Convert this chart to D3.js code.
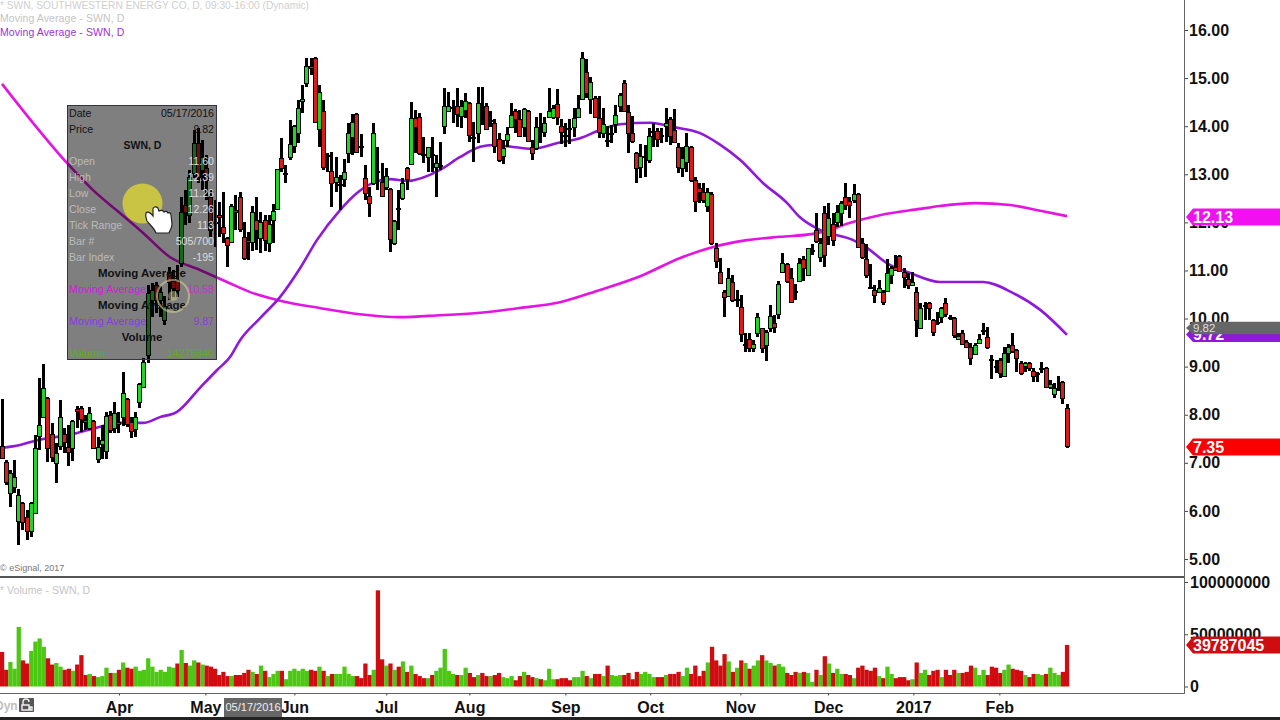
<!DOCTYPE html>
<html><head><meta charset="utf-8">
<script src="https://cdn.jsdelivr.net/npm/d3@7/dist/d3.min.js"></script>
<style>
html,body{margin:0;padding:0;background:#fff;overflow:hidden}
svg{display:block}
text{font-family:"Liberation Sans",Arial,sans-serif}
</style></head><body>
<svg id="c" width="1280" height="720"></svg>
<script>
const opens=[7.35,7.02,6.37,6.50,5.79,6.16,5.87,5.58,5.96,7.56,
7.95,8.35,7.60,6.99,7.35,7.60,7.33,7.31,8.12,8.14,
7.89,7.72,7.87,7.08,7.39,7.25,7.99,7.72,7.85,7.95,
8.33,7.85,7.70,8.26,8.58,9.24,10.39,10.70,10.39,9.97,
10.97,10.78,10.80,11.15,12.36,12.15,13.03,13.65,13.09,13.13,
12.53,12.01,12.16,11.90,11.67,11.59,12.26,12.53,11.70,11.63,
11.59,12.05,11.67,12.05,11.57,12.05,12.28,13.34,13.03,13.36,
13.59,13.86,14.52,14.90,15.25,15.42,13.94,14.32,13.40,13.07,
12.84,12.79,12.90,13.44,13.77,14.25,13.59,12.92,12.55,12.82,
13.07,12.84,12.73,12.69,11.57,12.30,12.51,13.13,13.21,14.17,
14.19,13.43,13.36,13.43,13.15,13.20,14.00,14.32,14.39,14.42,
14.21,14.34,14.48,13.78,13.86,14.33,14.42,14.13,14.07,13.73,
13.38,13.71,13.98,14.32,14.15,13.98,14.32,13.57,13.55,13.96,
13.88,14.19,14.19,14.46,14.00,13.81,13.96,13.98,14.19,14.56,
15.13,14.57,14.59,14.17,13.86,13.71,13.86,14.05,14.42,14.90,
14.29,13.86,13.44,13.15,13.37,13.30,13.90,13.90,13.82,14.00,
14.15,13.92,13.57,13.13,13.26,13.57,12.88,12.71,12.63,12.34,
12.59,11.47,10.97,10.55,10.47,10.76,10.40,10.24,9.47,9.57,
9.39,9.70,9.80,9.45,9.80,9.91,10.09,10.97,11.13,10.84,
10.57,10.78,11.24,10.91,11.43,11.84,11.28,12.19,11.72,11.97,
12.01,12.19,12.53,12.44,12.47,12.59,11.57,11.24,10.65,10.59,
10.55,10.55,10.57,10.91,11.07,11.30,10.97,10.82,10.70,10.55,
9.80,10.29,10.32,9.97,9.93,10.03,10.32,10.03,10.01,9.57,
9.70,9.51,9.41,9.26,9.49,9.77,9.62,9.15,9.01,9.14,
8.81,9.28,9.45,9.35,9.08,9.01,9.08,8.91,8.87,8.97,
8.97,8.58,8.43,8.53,8.68,8.14];
const highs=[8.33,7.06,6.85,7.06,6.46,6.19,6.02,6.19,7.58,8.76,
9.05,8.37,7.83,7.41,8.31,7.72,7.79,7.89,8.18,8.18,
7.99,8.16,7.89,7.54,7.79,8.06,8.08,8.26,8.06,8.89,
8.35,7.95,8.06,8.66,9.18,10.70,10.74,10.76,10.67,10.47,
11.07,11.01,11.11,12.53,12.67,13.09,13.92,13.96,13.71,13.40,
12.67,12.47,12.42,12.63,11.70,12.38,12.57,12.63,12.01,11.80,
12.34,12.53,12.22,12.15,12.15,12.38,13.11,13.75,13.19,14.13,
14.02,14.55,14.86,15.42,15.42,15.44,14.86,14.55,13.44,13.46,
13.36,12.98,13.32,14.07,14.25,14.27,13.84,13.19,12.73,14.07,
13.57,13.23,13.13,12.71,12.05,12.67,12.92,13.15,14.50,14.34,
14.27,13.77,13.57,13.77,13.40,13.67,14.79,14.71,14.55,14.79,
14.55,14.69,14.50,14.09,14.81,14.81,14.48,14.32,14.15,13.86,
13.71,13.98,14.48,14.36,14.34,14.38,14.34,13.71,14.19,14.27,
14.19,14.79,14.44,14.77,14.15,14.07,14.15,14.38,14.65,15.54,
15.40,15.02,14.63,14.63,14.38,14.00,14.02,14.44,14.69,14.96,
14.44,14.21,13.46,13.63,13.61,13.96,14.07,13.96,13.96,14.38,
14.19,14.36,13.65,13.57,13.86,13.59,12.94,12.82,12.82,12.71,
12.63,11.57,11.26,10.59,11.05,10.91,10.59,10.49,9.70,9.70,
9.55,10.11,9.80,9.76,10.28,10.07,10.78,11.36,11.15,11.05,
10.72,11.26,11.30,11.47,11.55,12.19,11.67,12.34,12.40,12.19,
12.36,12.44,12.82,12.53,12.80,12.61,11.67,11.55,11.13,10.70,
10.80,10.59,11.24,11.09,11.32,11.32,11.05,10.95,10.97,10.66,
10.32,10.34,10.34,9.99,10.14,10.24,10.43,10.07,10.03,9.70,
9.76,9.55,9.49,9.49,9.68,9.91,9.82,9.24,9.14,9.18,
9.41,9.47,9.70,9.37,9.12,9.10,9.10,8.97,8.89,9.10,
8.99,8.72,8.66,8.80,8.70,8.22];
const lows=[7.08,6.54,6.08,6.37,5.29,5.60,5.39,5.46,5.96,7.27,
7.93,7.02,7.02,6.58,7.27,7.20,6.93,7.04,7.72,7.64,
7.68,7.68,7.29,6.99,7.08,7.08,7.62,7.62,7.62,7.77,
7.75,7.51,7.54,8.14,8.58,9.07,10.03,10.11,10.03,9.87,
10.39,10.45,10.45,11.07,11.95,11.99,12.92,12.82,12.67,12.47,
11.70,11.49,11.70,11.57,11.07,11.57,11.84,11.80,11.22,11.22,
11.40,11.42,11.36,11.40,11.38,11.57,12.28,13.05,12.82,13.30,
13.44,13.65,14.27,14.81,15.06,14.07,13.57,13.09,13.05,12.32,
12.63,12.26,12.73,13.23,13.40,13.44,13.36,12.47,12.11,12.78,
12.67,12.53,12.67,11.38,11.53,11.84,12.47,12.67,13.19,13.44,
13.40,13.23,13.05,13.05,12.53,13.09,13.84,14.32,14.07,13.98,
13.96,14.17,13.67,13.26,13.65,14.02,13.92,13.98,13.44,13.26,
13.21,13.57,13.96,13.86,13.78,13.78,13.67,13.30,13.50,13.65,
13.78,14.17,14.15,14.02,13.63,13.57,13.63,13.78,14.17,14.57,
14.59,14.25,14.17,13.75,13.75,13.57,13.65,13.86,14.29,14.29,
13.44,13.65,12.82,12.92,12.94,13.23,13.57,13.57,13.65,13.67,
13.61,13.65,13.03,12.94,13.05,12.84,12.21,12.40,12.40,12.21,
11.53,11.05,10.74,10.03,10.45,10.34,10.24,9.51,9.30,9.30,
9.30,9.62,9.28,9.12,9.72,9.70,9.99,10.95,10.74,10.32,
10.39,10.76,10.78,10.88,11.32,11.57,11.18,11.07,11.53,11.51,
11.90,11.92,12.26,12.09,12.40,11.47,11.24,10.84,10.63,10.32,
10.53,10.28,10.55,10.72,11.01,10.97,10.63,10.61,10.68,9.62,
9.78,9.97,9.97,9.64,9.87,9.91,10.03,9.97,9.59,9.55,
9.45,9.39,9.03,9.24,9.47,9.66,9.37,8.74,8.87,8.76,
8.78,9.07,9.28,8.89,8.83,8.89,8.91,8.68,8.68,8.87,
8.58,8.53,8.35,8.49,8.22,7.31];
const closes=[7.10,6.60,6.79,6.70,6.33,5.77,5.58,6.16,7.31,7.79,
8.56,7.31,7.12,7.20,7.95,7.43,7.22,7.87,8.08,7.91,
7.85,8.04,7.31,7.33,7.47,7.97,7.68,8.04,7.81,8.45,
7.81,7.66,7.95,8.64,9.10,10.53,10.59,10.39,10.55,10.26,
10.76,10.63,10.59,12.22,12.22,12.94,13.65,12.94,13.36,12.88,
11.84,11.99,12.12,11.78,11.53,12.34,12.22,11.86,11.26,11.59,
12.22,11.84,12.01,11.63,11.97,12.24,13.11,13.13,13.00,13.63,
14.00,14.38,14.57,15.25,15.21,14.09,14.71,13.15,13.38,12.82,
12.94,12.77,13.05,13.86,14.09,13.46,13.57,12.61,12.40,13.86,
13.05,12.55,12.96,11.65,12.03,12.28,12.82,12.90,14.17,13.98,
13.44,13.41,13.57,13.41,13.23,13.18,14.42,14.42,14.37,14.25,
14.42,14.52,13.82,13.76,14.48,14.31,13.94,14.11,13.59,13.30,
13.55,13.84,14.23,14.15,13.80,14.36,13.69,13.44,13.98,13.94,
14.07,14.32,14.38,14.19,13.88,13.79,13.94,14.17,14.38,15.42,
14.69,14.92,14.19,13.88,14.05,13.69,13.84,14.23,14.65,14.32,
13.86,13.69,13.13,13.38,13.35,13.80,13.88,13.73,13.80,14.07,
13.80,13.67,13.15,13.34,13.59,12.88,12.44,12.63,12.47,12.63,
11.57,11.20,10.74,10.45,10.84,10.39,10.38,9.68,9.45,9.39,
9.47,10.03,9.39,9.72,10.05,9.82,10.72,11.15,10.78,10.34,
10.55,11.15,11.05,11.47,11.41,11.61,11.57,11.32,12.09,11.63,
12.22,12.40,12.36,12.36,12.59,11.49,11.28,10.91,10.63,10.49,
10.63,10.34,10.95,11.05,11.01,10.99,10.86,10.70,10.76,9.97,
10.22,10.27,10.22,9.72,9.91,10.22,10.09,10.01,9.66,9.64,
9.47,9.41,9.18,9.45,9.57,9.75,9.41,9.13,8.99,8.87,
9.28,9.41,9.32,9.18,8.87,9.08,8.97,8.81,8.85,8.95,
8.58,8.64,8.55,8.51,8.35,7.35];
const volumes=[33,16,23.5,17,57,25,22,34,43,46,
38,27,21,22.5,19,16,17,15,21,30,
11,12,10,9,10,18,13,13,16,23,
18,17,19,15,16,27,19,14,16,14,
19,18,22,35,22.5,20,25,23,21,20,
19,17,11,14,10,10,11,11,13,16,
14,12,20,15,9,12,15,15,7,15,
17,15,17,15,16,15,19,15,10,12,
12,12,19,12,10,10,8,22,11,16,
92,26,20,22,16,19,24,14,20,12,
10,8,8,11,15,18,36,15,12,11,
11,18,13,9,11,13,10,10,11,13,
9,8,10,6,10,14,11,9,8,7,
6,17,7,7,8,8,6,9,9,15,
10,8,12,12,10,20,11,10,11,11,
13,7,14,12,14,12,9,9,9,11,
12,12,14,10,18,12,20,10,15,23,
38,25,20,31,24,14,18,25,22.5,17,
20,25,30,25,22.5,20,21.5,19,13,11,
14,13,14,13,4.5,16,11,29,22,13,
17,12,12,11,8,18,20,16,15,18,
10,8,19,12,8,9,9,6,7,23,
13,16,11,15,16,9,16,11,16,13,
13,14,20,18,11,16,11,19,18,13,
16,21,17,16,15,11,9,12,12,11,
12,18,13,11,14,39.787045];
const volumeDirs=["rrgggrrggg","grrggrrgrr","rgrgggrgrg","rrgggggggg","ggrgrggrgr",
"rrrrrgrrrr","grgrgggrgg","ggggrrgrgr","gggggrrrrg","rrgrgrgrgr",
"rrgrgggggr","ggrrgrrgrr","gggrrgrrgr","gggrrrrggg","rgrrgrgggr",
"rrrggggrrg","rrrggrrrrg","rrrrgrgrgr","ggrggrggrr","rgrggrgrgr",
"ggrrgrrrrr","grggrrrrgr","ggrrrgrrrg","rrrgggrrrr","ggrrrgrrgg","rgggrr"].join("");
const tickIndex=[28,48.7,70,92,111.9,134.9,155.2,176.8,197.8,218.2,238.8];
const tickLabels=["Apr","May","Jun","Jul","Aug","Sep","Oct","Nov","Dec","2017","Feb"];
const maLongIdx=[0,7.4,15.6,21.8,28.3,33.8,40.2,47.4,53.9,59.4,66.6,76,85.7,95.3,105,114.5,124,133.6,143,152.8,162.4,170.3,178.4,186.3,194.2,198.3,202.3,210.2,219.8,224.6,233,241.4,248.6,255];
const maLongVal=[14.88,14.07,13.23,12.67,12.19,11.78,11.28,11.01,10.76,10.55,10.37,10.22,10.09,10.03,10.07,10.12,10.22,10.34,10.59,10.88,11.26,11.49,11.63,11.70,11.76,11.84,11.97,12.15,12.28,12.34,12.40,12.36,12.24,12.13];
const maShortIdx=[0,4.3,8.4,13.2,18,23.5,27.5,33.8,37.8,41.9,47.4,51.5,54.6,57,61.8,66.6,71.4,75.4,81,85,88.8,92.9,97,104.9,109.7,114.5,117.6,124,126.9,133,138.4,143.2,148,155.2,160.7,167,172,176.7,182.2,188,191,195.9,203.8,207.1,211.9,217.4,224.6,234.9,242.1,248.6,255];
const maShortVal=[7.31,7.37,7.47,7.54,7.62,7.75,7.83,7.83,7.95,8.06,8.56,8.93,9.20,9.55,10.01,10.45,11.05,11.63,12.26,12.61,12.82,12.90,12.86,13.09,13.36,13.57,13.61,13.55,13.53,13.65,13.75,13.92,14.04,14.07,13.98,13.86,13.61,13.30,12.82,12.40,12.11,11.84,11.63,11.47,11.15,10.95,10.76,10.76,10.53,10.18,9.66];
const priceTicks=[5,6,7,8,9,10,11,12,13,14,15,16];
const volumeTicks=[0,50,100];
const panelRows=[["Date","05/17/2016"],["Price","9.82"]];
const panelValues=[["Open","11.60"],["High","12.39"],["Low","11.26"],["Close","12.26"],["Tick Range","113"],["Bar #","505/700"],["Bar Index","-195"]];

const svg=d3.select("#c");
const GREEN="#22d428",RED="#d81c1c",MAG="#e414e4",PUR="#9018d8";
const x=d3.scaleLinear().domain([0,255]).range([2,1067]);
const y=d3.scaleLinear().domain([5,16]).range([559,30]);
const v=d3.scaleLinear().domain([0,100]).range([686.5,582]);

// moving averages (under the candles)
const lineOf=(idx,val)=>d3.line().x((d,i)=>x(idx[i])).y(d=>y(d)).curve(d3.curveMonotoneX)(val);
svg.append("path").attr("d",lineOf(maLongIdx,maLongVal)).attr("fill","none").attr("stroke",MAG).attr("stroke-width",2.6);
svg.append("path").attr("d",lineOf(maShortIdx,maShortVal)).attr("fill","none").attr("stroke",PUR).attr("stroke-width",2.6);

// candles
const cx=i=>Math.floor(x(i))+0.5;
const cg=svg.append("g").attr("shape-rendering","crispEdges");
cg.selectAll("line").data(opens).join("line")
 .attr("x1",(d,i)=>cx(i)).attr("x2",(d,i)=>cx(i))
 .attr("y1",(d,i)=>y(highs[i])).attr("y2",(d,i)=>y(lows[i]))
 .attr("stroke","#000").attr("stroke-width",3);
cg.selectAll("rect").data(opens).join("rect")
 .attr("x",(d,i)=>cx(i)-2).attr("width",4)
 .attr("y",(d,i)=>Math.round(Math.min(y(d),y(closes[i])))+0.5)
 .attr("height",(d,i)=>Math.max(1,Math.round(Math.abs(y(d)-y(closes[i])))))
 .attr("fill",(d,i)=>closes[i]>d?GREEN:RED)
 .attr("stroke","#000").attr("stroke-width",1);

// volume
const vw=x(1)-x(0);
svg.append("g").selectAll("rect").data(volumes).join("rect")
 .attr("x",(d,i)=>x(i)-vw/2).attr("width",vw+0.1)
 .attr("y",d=>v(d)).attr("height",d=>v(0)-v(d))
 .attr("fill",(d,i)=>volumeDirs[i]==="g"?"#4cc814":"#d00c10");

// frame
svg.append("rect").attr("x",0).attr("y",576).attr("width",1184).attr("height",2).attr("fill","#555");
svg.append("rect").attr("x",0).attr("y",693).attr("width",1185).attr("height",1).attr("fill","#666");
svg.append("rect").attr("x",1184).attr("y",0).attr("width",1).attr("height",694).attr("fill","#666");
svg.append("rect").attr("x",0).attr("y",717).attr("width",1280).attr("height",3).attr("fill","#222");

// axes
const axisStyle=g=>{g.select(".domain").remove();
 g.selectAll("line").attr("stroke","#444");
 g.selectAll("text").attr("font-family","Liberation Sans").attr("font-size",16).attr("font-weight","bold").attr("fill","#111");};
svg.append("g").attr("transform","translate(1185,0)")
 .call(d3.axisRight(y).tickValues(priceTicks).tickFormat(d3.format(".2f")).tickSize(3).tickPadding(1)).call(axisStyle);
svg.append("g").attr("transform","translate(1185,0)")
 .call(d3.axisRight(v).tickValues(volumeTicks).tickFormat(d=>String(d*1000000)).tickSize(3).tickPadding(2)).call(axisStyle);
svg.append("g").attr("transform","translate(0,693.5)")
 .call(d3.axisBottom(x).tickValues(tickIndex).tickFormat((d,i)=>tickLabels[i]).tickSize(2).tickPadding(6)).call(axisStyle);

// header text
const txt=(t,xp,yp,size,fill,o={})=>{const e=svg.append("text").attr("x",xp).attr("y",yp).attr("font-size",size).attr("fill",fill)
 .attr("text-anchor",o.anchor||"start").attr("font-weight",o.weight||"normal").text(t);
 if(o.ls)e.attr("letter-spacing",o.ls);if(o.op)e.attr("opacity",o.op);return e;};
txt("* SWN, SOUTHWESTERN ENERGY CO, D, 09:30-16:00 (Dynamic)",0,8.5,10.2,"#cfcfcf");
txt("Moving Average - SWN, D",0,22,10.5,"#c4c4c4",{ls:0.09});
txt("Moving Average - SWN, D",0,36,10.5,"#a030d8",{ls:0.09});
txt("* Volume - SWN, D",0,594,10.5,"#c4c4c4",{ls:0.05});
txt("© eSignal, 2017",0,571,9,"#777");
txt("Dyn",-5,710,12,"#c0c0c0",{weight:"bold"});
svg.append("rect").attr("x",19).attr("y",698).attr("width",15).attr("height",14).attr("rx",1).attr("fill","#555");
svg.append("path").attr("d","M23 705v-3a3 3 0 0 1 6 0M22 705h7v5h-7z M30 707h2v3h-2z").attr("fill","none").attr("stroke","#eee").attr("stroke-width",1.4);

// date tag
svg.append("rect").attr("x",224).attr("y",698).attr("width",58).attr("height",19).attr("fill","#666");
txt("05/17/2016",253,711,11,"#eee",{anchor:"middle"});

// data tooltip panel
svg.append("rect").attr("x",67.5).attr("y",105.5).attr("width",149).attr("height",254)
 .attr("fill","#000").attr("fill-opacity",0.5).attr("stroke","#334").attr("stroke-width",1);
panelRows.forEach((r,i)=>{const yy=117+16*i;txt(r[0],69,yy,10.6,"#111");txt(r[1],214,yy,10.6,"#111",{anchor:"end"});});
txt("SWN, D",142.5,149,10.5,"#111",{anchor:"middle",weight:"bold"});
panelValues.forEach((r,i)=>{const yy=165+16*i;txt(r[0],69,yy,10.6,"#bbb");txt(r[1],214,yy,10.6,"#ddd",{anchor:"end"});});
txt("Moving Average",142,277,11.5,"#111",{anchor:"middle",weight:"bold"});
txt("Moving Average",69,293,10.8,"#d020d0");txt("10.58",214,293,10.6,"#c830c8",{anchor:"end"});
txt("Moving Average",142,309,11.5,"#111",{anchor:"middle",weight:"bold"});
txt("Moving Average",69,325,10.8,"#8a3ae0");txt("9.87",214,325,10.6,"#8a3ae0",{anchor:"end"});
txt("Volume",142,341,11.5,"#111",{anchor:"middle",weight:"bold"});
txt("Volume",69,357,10.8,"#58b020");txt("14275840",214,357,10.6,"#58b020",{anchor:"end"});

// cursor highlight
svg.append("circle").attr("cx",142.5).attr("cy",203.5).attr("r",20).attr("fill","#cac445");
svg.append("circle").attr("cx",173).attr("cy",296).attr("r",16).attr("fill","none").attr("stroke","#cfcf90").attr("stroke-width",2).attr("opacity",.6);
svg.append("circle").attr("cx",173).attr("cy",296).attr("r",5).attr("fill","#cfcf90").attr("opacity",.5);
svg.append("path").attr("d","M146 213c2-2 5 0 7 3l0-7c0-2 3-3 5-1l1 3c1-1 4-1 5 1c1-1 3-1 4 1c1-1 3 0 3 2l1 9c0 4-2 6-3 9h-13c-2-5-6-8-9-12c-1-3-2-5-1-8z")
 .attr("fill","#fff").attr("stroke","#222").attr("stroke-width",1.2);

// price tags
const tag=(yc,h,fill,label,o={})=>{const t=yc-h/2,b=yc+h/2;
 svg.append("path").attr("d",`M1186 ${yc}L1193 ${t}H1280V${b}H1193Z`).attr("fill",fill);
 txt(label,1193,yc+(o.dy||5.5),o.size||16,o.color||"#fff",{weight:o.weight||"bold"});};
tag(217,17,"#f010f0","12.13");
tag(447,17,"#fa0000","7.35");
tag(334.5,15,PUR,"9.72");
tag(328,12.5,"#666","9.82",{size:11.5,weight:"normal",color:"#ddd",dy:4});
tag(645,17,"#d00c10","39787045");
</script>
</body></html>
